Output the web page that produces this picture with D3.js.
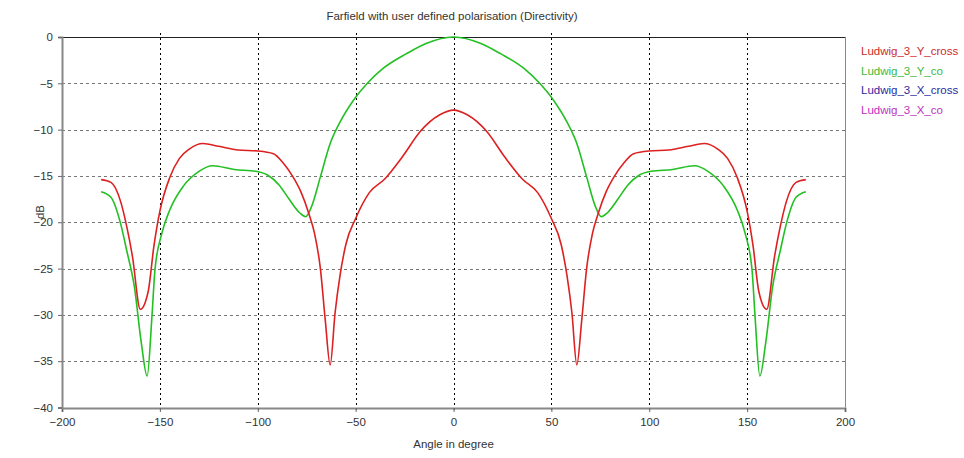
<!DOCTYPE html>
<html>
<head>
<meta charset="utf-8">
<script src="https://cdn.jsdelivr.net/npm/d3@7"></script>
<style>
  body { margin: 0; background: #fff; }
  svg text { font-family: "Liberation Sans", Arial, sans-serif; font-size: 11px; fill: #333; }
</style>
</head>
<body>
<div id="chart"></div>
<script>
// Datos (dB frente a ángulo)
const anglesYCross = [-180, -175, -170, -167, -164, -160, -156, -153, -150, -145, -140, -135, -128, -120, -110, -100, -92, -87, -82, -78, -74, -71, -68, -65.5, -63, -60.5, -58, -55, -50, -43, -35, -26, -17, -7, 0,
  7, 17, 26, 35, 43, 50, 55, 58, 60.5, 63, 65.5, 68, 71, 74, 78, 82, 87, 92, 100, 110, 120, 128, 135, 140, 145, 150, 153, 156, 160, 164, 167, 170, 175, 180];
const valuesYCross = [-15.4, -15.7, -17.8, -20.4, -23.7, -29.4, -27.5, -22.5, -18.8, -15.2, -13.1, -12.1, -11.5, -11.8, -12.2, -12.3, -12.6, -13.6, -15.1, -16.7, -19.0, -21.2, -25.0, -30.6, -35.4, -29.8, -25.8, -22.4, -19.6, -16.8, -15.3, -12.9, -10.2, -8.4, -7.9,
  -8.4, -10.2, -12.9, -15.3, -16.8, -19.6, -22.4, -25.8, -29.8, -35.4, -30.6, -25.0, -21.2, -19.0, -16.7, -15.1, -13.6, -12.6, -12.3, -12.2, -11.8, -11.5, -12.1, -13.1, -15.2, -18.8, -22.5, -27.5, -29.4, -23.7, -20.4, -17.8, -15.7, -15.4];

const anglesYCo = [-180, -175, -170, -167, -163, -159.5, -156.5, -154, -152.5, -149, -145, -138, -130, -123, -112, -101, -95, -89, -84, -78.5, -75.5, -72.5, -68, -63, -58, -51, -44, -36, -24, -14, 0,
  14, 24, 36, 44, 51, 58, 63, 68, 72.5, 75.5, 78.5, 84, 89, 95, 101, 112, 123, 130, 138, 145, 149, 152.5, 154, 156.5, 159.5, 163, 167, 170, 175, 180];
const valuesYCo = [-16.7, -17.3, -20.2, -23.0, -27.0, -33.0, -36.6, -30.0, -25.1, -21.2, -18.7, -16.1, -14.5, -13.9, -14.3, -14.5, -14.9, -16.0, -17.5, -19.0, -19.4, -18.3, -15.1, -11.5, -9.2, -6.8, -5.0, -3.4, -1.8, -0.7, 0,
  -0.7, -1.8, -3.4, -5.0, -6.8, -9.2, -11.5, -15.1, -18.3, -19.4, -19.0, -17.5, -16.0, -14.9, -14.5, -14.3, -13.9, -14.5, -16.1, -18.7, -21.2, -25.1, -30.0, -36.6, -33.0, -27.0, -23.0, -20.2, -17.3, -16.7];

const xTicks = [-200, -150, -100, -50, 0, 50, 100, 150, 200];
const yTicks = [0, -5, -10, -15, -20, -25, -30, -35, -40];

const legendNames = ["Ludwig_3_Y_cross", "Ludwig_3_Y_co", "Ludwig_3_X_cross", "Ludwig_3_X_co"];
const legendColors = ["#cc2a2a", "#3cb83c", "#2a2aa0", "#c030c0"];

const width = 964;
const height = 458;
const margin = { top: 37, right: 119, bottom: 50, left: 62 };

const svg = d3.select("#chart")
  .append("svg")
  .attr("width", width)
  .attr("height", height);

const x = d3.scaleLinear().domain([-200, 200]).range([margin.left, width - margin.right]);
const y = d3.scaleLinear().domain([-40, 0]).range([height - margin.bottom - 0.5, margin.top]);

// Rejilla horizontal
svg.append("g")
  .selectAll("line")
  .data(yTicks.filter(d => d !== 0 && d !== -40))
  .enter()
  .append("line")
  .attr("x1", x(-200))
  .attr("x2", x(200))
  .attr("y1", d => Math.round(y(d)) + 0.5)
  .attr("y2", d => Math.round(y(d)) + 0.5)
  .attr("stroke", "#777")
  .attr("stroke-dasharray", "3,3");

// Rejilla vertical
svg.append("g")
  .selectAll("line")
  .data(xTicks.filter(d => d !== -200 && d !== 200))
  .enter()
  .append("line")
  .attr("x1", d => Math.round(x(d)) + 0.5)
  .attr("x2", d => Math.round(x(d)) + 0.5)
  .attr("y1", y(0) - 4)
  .attr("y2", y(-40) + 4)
  .attr("stroke", "#000")
  .attr("stroke-dasharray", "2,3");

// Marco
svg.append("line")
  .attr("x1", x(-200)).attr("x2", x(200))
  .attr("y1", Math.round(y(0)) + 0.5).attr("y2", Math.round(y(0)) + 0.5)
  .attr("stroke", "#222");
svg.append("line")
  .attr("x1", Math.round(x(200)) + 0.5).attr("x2", Math.round(x(200)) + 0.5)
  .attr("y1", y(0)).attr("y2", y(-40))
  .attr("stroke", "#888");

// Ejes
const xAxis = svg.append("g")
  .attr("transform", `translate(0, ${Math.round(y(-40))})`)
  .call(d3.axisBottom(x).tickValues(xTicks).tickSize(4).tickPadding(6));
const yAxis = svg.append("g")
  .attr("transform", `translate(${Math.round(x(-200))}, 0)`)
  .call(d3.axisLeft(y).tickValues(yTicks).tickSize(4).tickPadding(5));

[xAxis, yAxis].forEach(g => {
  g.select(".domain").attr("stroke", "#888").attr("stroke-width", 2);
  g.selectAll(".tick line").attr("stroke", "#666");
  g.selectAll(".tick text")
    .style("font-family", "Liberation Sans, Arial, sans-serif")
    .style("font-size", "11.5px")
    .attr("fill", "#333");
});

// Curvas
const line = d3.line()
  .curve(d3.curveMonotoneX)
  .x(d => x(d[0]))
  .y(d => y(d[1]));

svg.append("path")
  .datum(anglesYCo.map((a, i) => [a, valuesYCo[i]]))
  .attr("d", line)
  .attr("fill", "none")
  .attr("stroke", "#22c022")
  .attr("stroke-width", 1.6);

svg.append("path")
  .datum(anglesYCross.map((a, i) => [a, valuesYCross[i]]))
  .attr("d", line)
  .attr("fill", "none")
  .attr("stroke", "#dd2020")
  .attr("stroke-width", 1.6);

// Textos
svg.append("text")
  .attr("x", 452)
  .attr("y", 20)
  .attr("text-anchor", "middle")
  .style("font-size", "11.5px")
  .text("Farfield with user defined polarisation (Directivity)");

svg.append("text")
  .attr("x", x(0))
  .attr("y", 448)
  .attr("text-anchor", "middle")
  .style("font-size", "11.5px")
  .text("Angle in degree");

svg.append("text")
  .attr("transform", `translate(44, 212) rotate(-90)`)
  .attr("text-anchor", "middle")
  .style("font-size", "11.5px")
  .text("dB");

// Leyenda
const legend = svg.append("g")
  .attr("transform", "translate(861, 55)");

legendNames.forEach((name, i) => {
  legend.append("text")
    .attr("x", 0)
    .attr("y", i * 19.5)
    .style("font-size", "11.5px")
    .style("fill", legendColors[i])
    .text(name);
});
</script>
</body>
</html>
